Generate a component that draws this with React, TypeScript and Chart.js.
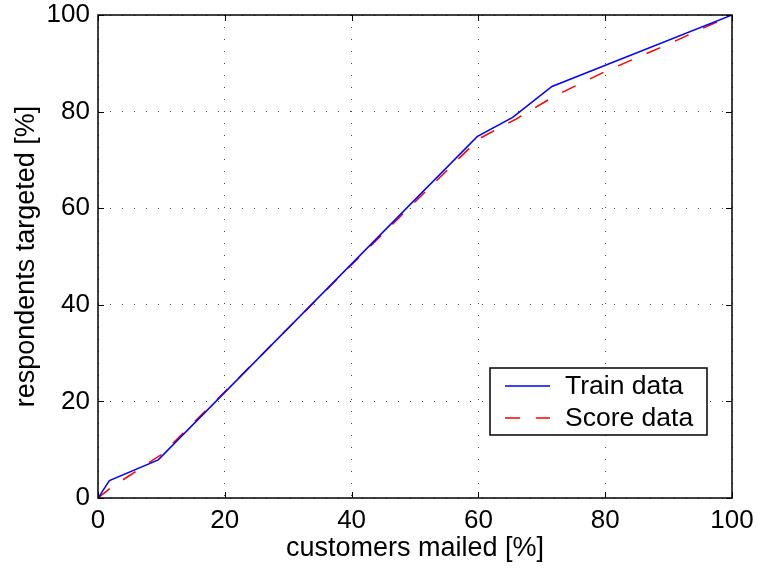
import React, { useEffect, useRef } from "react";
import { Chart, registerables } from "chart.js";

Chart.register(...registerables);

const trainX = [0, 1.8, 9.5, 59.8, 65.4, 71.6, 100];
const trainY = [0, 3.6, 7.9, 74.8, 78.8, 85.2, 100];
const scoreX = [0, 2, 10, 20, 40, 60, 66, 72, 80, 90, 100];
const scoreY = [0, 2.1, 9.0, 22.0, 48.3, 74.3, 78.5, 83.2, 88.3, 94.0, 100];
const tickValues = [0, 20, 40, 60, 80, 100];
const seriesLabels = ["Train data", "Score data"];
const xTitle = "customers mailed [%]";
const yTitle = "respondents targeted [%]";

const FONT = "'Liberation Sans', Arial, Helvetica, sans-serif";

const framePlugin = {
  id: "frame",
  afterDraw(chart: any) {
    const { ctx, chartArea: a, scales } = chart;
    const x = scales.x;
    const y = scales.y;
    ctx.save();
    ctx.strokeStyle = "#000";
    ctx.lineWidth = 1.5;
    ctx.strokeRect(a.left, a.top, a.right - a.left, a.bottom - a.top);
    const tl = 6;
    ctx.beginPath();
    x.ticks.forEach((t: any) => {
      const px = Math.round(x.getPixelForValue(t.value)) + 0.5;
      ctx.moveTo(px, a.bottom);
      ctx.lineTo(px, a.bottom - tl);
      ctx.moveTo(px, a.top);
      ctx.lineTo(px, a.top + tl);
    });
    y.ticks.forEach((t: any) => {
      const py = Math.round(y.getPixelForValue(t.value)) + 0.5;
      ctx.moveTo(a.left, py);
      ctx.lineTo(a.left + tl, py);
      ctx.moveTo(a.right, py);
      ctx.lineTo(a.right - tl, py);
    });
    ctx.lineWidth = 1;
    ctx.stroke();

    // legend
    const bw = 217;
    const bh = 67;
    const x0 = a.right - 242;
    const y0 = a.bottom - 130;
    ctx.fillStyle = "#fff";
    ctx.fillRect(x0, y0, bw, bh);
    ctx.lineWidth = 1.5;
    ctx.strokeStyle = "#000";
    ctx.strokeRect(x0, y0, bw, bh);
    chart.data.datasets.forEach((ds: any, i: number) => {
      const ry = y0 + 18 + i * 32;
      ctx.beginPath();
      ctx.strokeStyle = ds.borderColor;
      ctx.lineWidth = ds.borderWidth;
      ctx.setLineDash(ds.borderDash || []);
      ctx.moveTo(x0 + 15, ry);
      ctx.lineTo(x0 + 60, ry);
      ctx.stroke();
      ctx.setLineDash([]);
      ctx.fillStyle = "#000";
      ctx.font = `26.5px ${FONT}`;
      ctx.textBaseline = "middle";
      ctx.textAlign = "left";
      ctx.fillText(ds.label, x0 + 75, ry + 1);
    });
    ctx.restore();
  },
};

export default function App() {
  const ref = useRef<HTMLCanvasElement | null>(null);
  useEffect(() => {
    document.body.style.margin = "0";
    const canvas = ref.current;
    if (!canvas) return;
    const tickFont = { family: FONT, size: 26, lineHeight: 1.2 };
    const titleFont = { family: FONT, size: 27, lineHeight: 1.2 };
    const chart = new Chart(canvas, {
      type: "line",
      data: {
        datasets: [
          {
            label: seriesLabels[0],
            data: trainX.map((v, i) => ({ x: v, y: trainY[i] })),
            borderColor: "#0000ff",
            borderWidth: 1.5,
            pointRadius: 0,
            tension: 0,
            fill: false,
          },
          {
            label: seriesLabels[1],
            data: scoreX.map((v, i) => ({ x: v, y: scoreY[i] })),
            borderColor: "#ff0000",
            borderWidth: 1.5,
            borderDash: [15, 16],
            pointRadius: 0,
            tension: 0,
            fill: false,
          },
        ],
      },
      options: {
        animation: false,
        responsive: false,
        layout: { padding: { top: 15, right: 26, left: 0, bottom: 0 } },
        plugins: {
          legend: { display: false },
          tooltip: { enabled: false },
        },
        scales: {
          x: {
            type: "linear",
            min: 0,
            max: 100,
            afterBuildTicks: (s: any) => {
              s.ticks = tickValues.map((v) => ({ value: v }));
            },
            afterFit: (s: any) => {
              s.height = 73;
              s.paddingLeft = 0;
              s.paddingRight = 0;
            },
            ticks: { color: "#000", font: tickFont, padding: 7, maxRotation: 0, autoSkip: false },
            grid: { drawTicks: false, color: "#444", lineWidth: 1 },
            border: { display: false, dash: [1, 11] },
            title: { display: true, text: xTitle, color: "#000", font: titleFont, padding: { top: 0, bottom: 6 } },
          },
          y: {
            type: "linear",
            min: 0,
            max: 100,
            afterBuildTicks: (s: any) => {
              s.ticks = tickValues.map((v) => ({ value: v }));
            },
            afterFit: (s: any) => {
              s.width = 98;
              s.paddingTop = 0;
              s.paddingBottom = 0;
            },
            ticks: { color: "#000", font: tickFont, padding: 8, autoSkip: false },
            grid: { drawTicks: false, color: "#444", lineWidth: 1 },
            border: { display: false, dash: [1, 11] },
            title: { display: true, text: yTitle, color: "#000", font: titleFont, padding: { top: 10, bottom: 0 } },
          },
        },
      },
      plugins: [framePlugin],
    } as any);
    return () => chart.destroy();
  }, []);
  return <canvas ref={ref} width={758} height={571} style={{ display: "block" }} />;
}
